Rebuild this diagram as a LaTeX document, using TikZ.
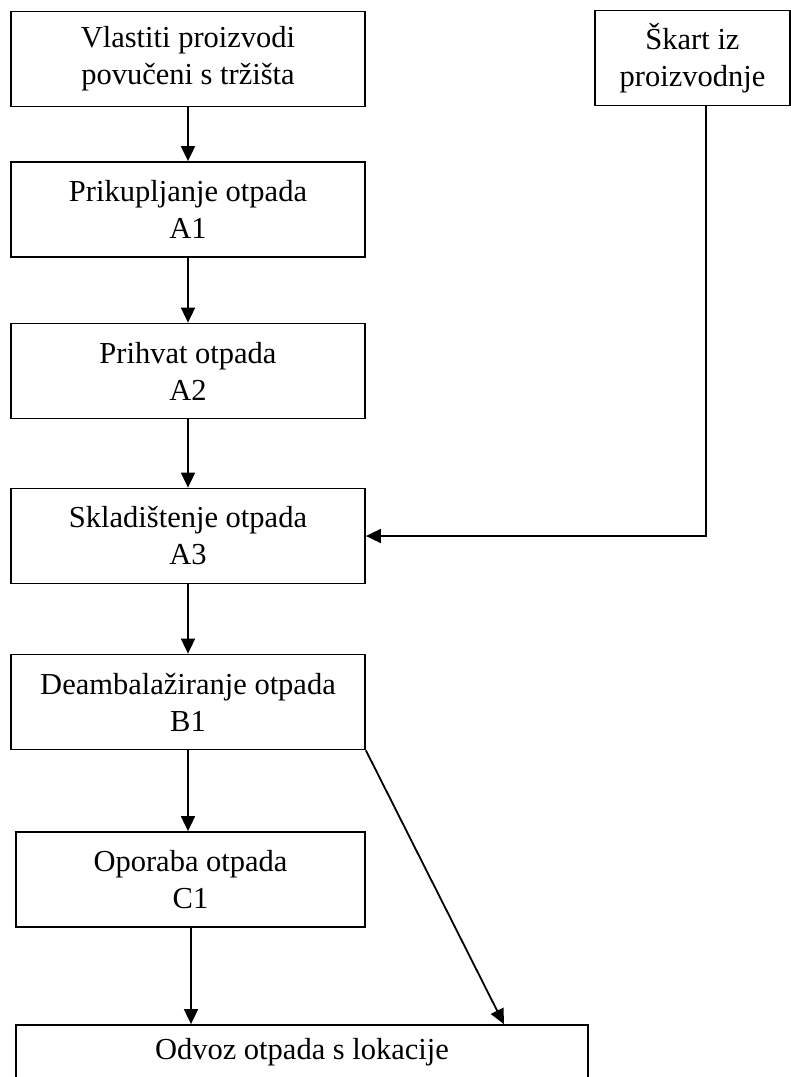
\documentclass[tikz,border=0pt]{standalone}
\usepackage{fontspec}
\setmainfont{Liberation Serif}
\usepackage{tikz}
\usetikzlibrary{positioning}
\usetikzlibrary{arrows.meta,calc}

\begin{document}
\begin{tikzpicture}[x=0.5pt, y=-0.5pt,
  every node/.style = {shape=rectangle, draw, line width=0.9pt,
    align=center, inner sep=0pt,
    font=\fontsize{15.25}{18.5}\selectfont},
  okvir/.style = {minimum width=177pt, minimum height=47.5pt},
  veza/.style = {->, draw, line width=0.9pt, >={Triangle[length=7.5pt,width=7pt]}}
    ]
  \useasboundingbox (0,0) rectangle (791,1077);
  % glavni tok
  \node[okvir] (vlastiti) at (188,59) {Vlastiti proizvodi\\povučeni s tržišta};
  \node[okvir] (a1) at (188,209.5) {Prikupljanje otpada\\A1};
  \node[okvir] (a2) at (188,371) {Prihvat otpada\\A2};
  \node[okvir] (a3) at (188,536) {Skladištenje otpada\\A3};
  \node[okvir] (b1) at (188,702) {Deambalažiranje otpada\\B1};
  \node[okvir, minimum width=174.5pt] (c1) at (190.5,879.5) {Oporaba otpada\\C1};
  \node[okvir, minimum width=286pt] (odvoz) at (302,1072.5) {Odvoz otpada s lokacije\\\strut};
  % bocni ulaz
  \node[okvir, minimum width=97.5pt] (skart) at (692.5,58) {Škart iz\\proizvodnje};

  \draw[veza] (vlastiti) -- (a1);
  \draw[veza] (a1) -- (a2);
  \draw[veza] (a2) -- (a3);
  \draw[veza] (a3) -- (b1);
  \draw[veza] (b1) -- (c1.north -| b1);
  \draw[veza] ([xshift=0.25pt]c1.south) -- ([xshift=0.25pt]c1.south |- odvoz.north);
  \draw[veza] (b1.south east) -- ([xshift=-42.5pt]odvoz.north east);
  \draw[veza] ([xshift=6.75pt]skart.south) |- (a3.east);
\end{tikzpicture}
\end{document}
